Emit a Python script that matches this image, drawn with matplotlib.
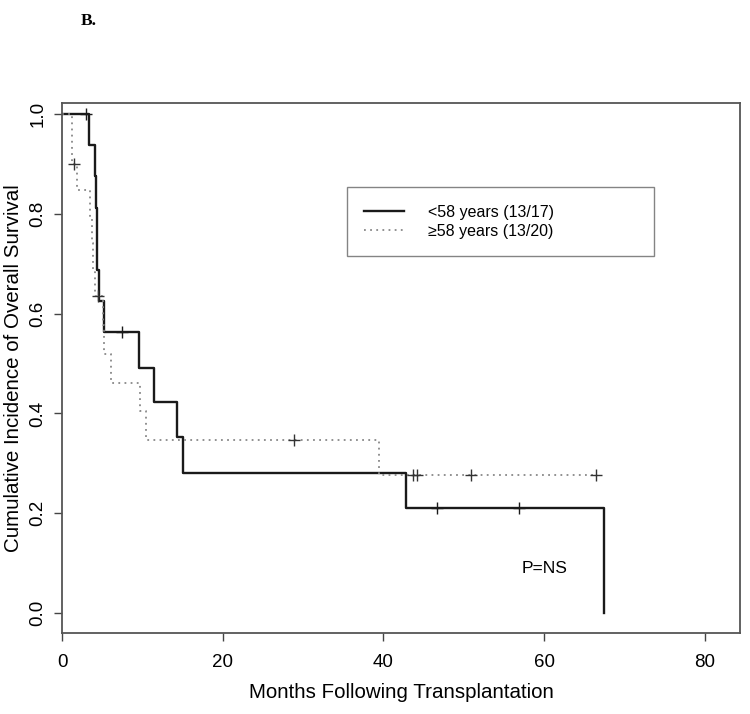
import numpy as np
import matplotlib
matplotlib.use("Agg")
from matplotlib import pyplot as plt

plt.rcParams['font.family'] = ['Liberation Sans', 'DejaVu Sans']

# <58 years: step times (months) and survival after each step
young_t = [0, 3.4, 4.05, 4.17, 4.3, 4.4, 4.65, 5.2, 9.6, 11.4, 14.3, 15.0, 42.8, 67.5]
young_s = [1.0, 0.9375, 0.875, 0.8125, 0.75, 0.6875, 0.625, 0.5625, 0.492, 0.422, 0.352, 0.281, 0.211, 0.0]
young_cens_t = [3.0, 7.5, 46.7, 56.9]

# >=58 years
old_t = [0, 1.2, 1.3, 1.9, 3.5, 3.7, 3.9, 4.05, 5.15, 5.25, 6.05, 9.7, 10.5, 39.5, 66.5]
old_s = [1.0, 0.95, 0.90, 0.847, 0.794, 0.741, 0.688, 0.635, 0.577, 0.519, 0.462, 0.404, 0.346, 0.277, 0.277]
old_cens_t = [1.5, 4.5, 28.9, 43.7, 44.2, 50.9, 66.5]

labels = ['<58 years (13/17)', '\u226558 years (13/20)']


def surv_at(t, times, surv):
    i = np.searchsorted(times, t, side='right') - 1
    return surv[i]


fig = plt.figure(figsize=(7.5, 7.14), dpi=100)
ax = fig.add_axes([0.0827, 0.1134, 0.904, 0.7423])

ax.step(young_t, young_s, where='post', color='#1a1a1a', lw=1.7, label=labels[0])
ax.step(old_t, old_s, where='post', color='#888888', lw=1.3,
        linestyle=(0, (1, 2.4)), label=labels[1])

yc = [surv_at(t, young_t, young_s) for t in young_cens_t]
ax.plot(young_cens_t, yc, '+', color='#1a1a1a', ms=8.5, mew=1.0)
oc = [surv_at(t, old_t, old_s) for t in old_cens_t]
ax.plot(old_cens_t, oc, '+', color='#333333', ms=8.5, mew=1.0)

ax.set_xlim(0, 84.4)
ax.set_ylim(-0.04, 1.022)
ax.set_xticks([0, 20, 40, 60, 80])
ax.set_yticks([0.0, 0.2, 0.4, 0.6, 0.8, 1.0])
ax.set_yticklabels(['0.0', '0.2', '0.4', '0.6', '0.8', '1.0'], rotation=90, va='center')
ax.tick_params(axis='both', labelsize=13.5, length=6, width=1.0, color='#444444')
ax.tick_params(axis='x', pad=9)
ax.tick_params(axis='y', pad=5)
for sp in ax.spines.values():
    sp.set_color('#555555')
    sp.set_linewidth(1.3)

ax.set_xlabel('Months Following Transplantation', fontsize=14.8)
ax.set_ylabel('Cumulative Incidence of Overall Survival', fontsize=14.8)
ax.xaxis.set_label_coords(0.5, -0.094)
ax.yaxis.set_label_coords(-0.0575, 0.5)

leg = ax.legend(loc='upper left', bbox_to_anchor=(0.42, 0.8415, 0.453, 0.0),
                mode='expand', frameon=True, fancybox=False, fontsize=11.5,
                handlelength=2.5, handletextpad=1.5, borderpad=1.1,
                labelspacing=0.25, borderaxespad=0)
leg.get_frame().set_edgecolor('#666666')
leg.get_frame().set_linewidth(1.0)

ax.text(57.2, 0.09, 'P=NS', fontsize=12.5, ha='left', va='center')

fig.text(0.107, 0.97, 'B.', fontsize=12.5, fontweight='bold',
         family='Liberation Serif', ha='left', va='center')

fig.savefig('out.png', dpi=100)
